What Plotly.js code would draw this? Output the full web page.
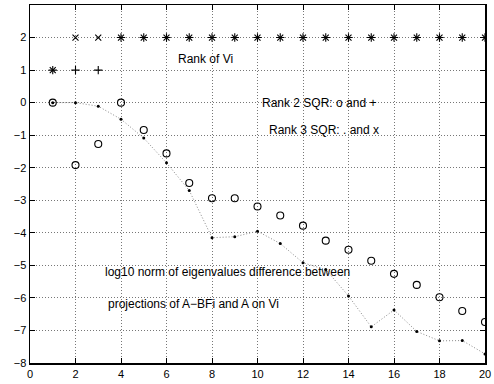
<!DOCTYPE html>
<html>
<head>
<meta charset="utf-8">
<script src="https://cdn.plot.ly/plotly-3.0.1.min.js"></script>
<style>
  html, body { margin: 0; padding: 0; background: #fff; }
  #chart { width: 494px; height: 384px; }
</style>
</head>
<body>
<div id="chart"></div>
<script>
// Iteration index
const steps = [1, 2, 3, 4, 5, 6, 7, 8, 9, 10, 11, 12, 13, 14, 15, 16, 17, 18, 19, 20];

// log10 norm of eigenvalue difference, rank 2 SQR (circles)
const errRank2 = [0, -1.92, -1.27, 0, -0.84, -1.56, -2.47, -2.94, -2.94, -3.19,
                  -3.47, -3.78, -4.24, -4.52, -4.86, -5.26, -5.60, -5.98, -6.40, -6.74];

// log10 norm of eigenvalue difference, rank 3 SQR (dots, dotted line)
const errRank3 = [0, 0, -0.11, -0.51, -1.09, -1.85, -2.70, -4.15, -4.12, -3.95,
                  -4.33, -4.92, -5.13, -5.94, -6.89, -6.37, -7.03, -7.32, -7.31, -7.72];

// Rank of Vi for each method
const rankV2 = [1, 1, 1, 2, 2, 2, 2, 2, 2, 2, 2, 2, 2, 2, 2, 2, 2, 2, 2, 2];
const rankV3 = [1, 2, 2, 2, 2, 2, 2, 2, 2, 2, 2, 2, 2, 2, 2, 2, 2, 2, 2, 2];

// Axis ticks
const xTicks = [0, 2, 4, 6, 8, 10, 12, 14, 16, 18, 20];
const yTicks = [-8, -7, -6, -5, -4, -3, -2, -1, 0, 1, 2];

// Text labels placed in data coordinates
const noteText = ["Rank of Vi", "Rank 2 SQR: o and +", "Rank 3 SQR: . and x",
                  "log10 norm of eigenvalues difference between",
                  "projections of A\u2212BFi and A on Vi"];
const noteX = [6.4, 10.1, 10.4, 3.22, 3.34];
const noteY = [1.35, 0.0, -0.83, -5.2, -6.18];

const FONT = "Liberation Sans, Arial, Helvetica, sans-serif";

const traces = [
  {
    x: steps, y: errRank3, mode: "lines+markers", type: "scatter",
    line: { color: "#888", width: 1, dash: "1px,2px" },
    marker: { symbol: "circle", size: 3, color: "#000" },
    hoverinfo: "skip"
  },
  {
    x: steps, y: errRank2, mode: "markers", type: "scatter",
    marker: { symbol: "circle-open", size: 7, color: "#000", line: { width: 1.1, color: "#000" } },
    hoverinfo: "skip"
  },
  {
    x: steps, y: rankV2, mode: "markers", type: "scatter",
    marker: { symbol: "cross-thin-open", size: 6, color: "#000", line: { width: 1.1, color: "#000" } },
    hoverinfo: "skip"
  },
  {
    x: steps, y: rankV3, mode: "markers", type: "scatter",
    marker: { symbol: "x-thin-open", size: 6, color: "#000", line: { width: 1.1, color: "#000" } },
    hoverinfo: "skip"
  }
];

const axisCommon = {
  showline: true, linecolor: "#000", linewidth: 1.5, mirror: "allticks",
  ticks: "inside", ticklen: 5, tickcolor: "#000", tickwidth: 1,
  showgrid: true, gridcolor: "#777", griddash: "1px,2px", gridwidth: 1,
  zeroline: false, tickfont: { family: FONT, size: 11, color: "#000" }
};

const layout = {
  width: 494, height: 384,
  margin: { l: 30, r: 9, t: 5, b: 21 },
  paper_bgcolor: "#fff", plot_bgcolor: "#fff",
  showlegend: false,
  xaxis: Object.assign({}, axisCommon, {
    range: [0, 20], tickvals: xTicks, ticktext: xTicks.map(String)
  }),
  yaxis: Object.assign({}, axisCommon, {
    range: [-8, 3], tickvals: yTicks,
    ticktext: yTicks.map(v => v < 0 ? "\u2212" + Math.abs(v) : String(v))
  }),
  annotations: noteText.map((t, i) => ({
    text: t, x: noteX[i], y: noteY[i], xref: "x", yref: "y",
    xanchor: "left", yanchor: "middle", showarrow: false,
    font: { family: FONT, size: 12, color: "#000" }
  }))
};

Plotly.newPlot("chart", traces, layout, { staticPlot: true, displayModeBar: false });
</script>
</body>
</html>
